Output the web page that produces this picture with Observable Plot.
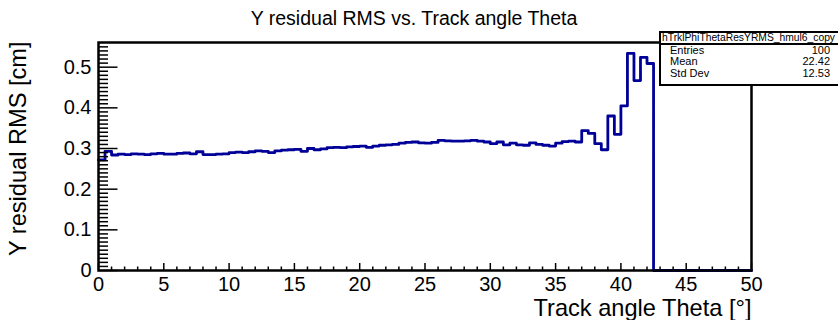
<!DOCTYPE html>
<html>
<head>
<meta charset="utf-8">
<script src="https://cdn.jsdelivr.net/npm/d3@7"></script>
<script src="https://cdn.jsdelivr.net/npm/@observablehq/plot@0.6"></script>
<style>
  html, body { margin: 0; padding: 0; background: #fff; overflow: hidden; }
  #wrap { position: relative; width: 838px; height: 320px; font-family: "Liberation Sans", Arial, sans-serif; }
  .stats { position: absolute; left: 659px; top: 31px; width: 200px; height: 51px;
           border: 2.5px solid #000; background: #fff; color: #000; font-size: 11px; }
  .stats .name { height: 9.5px; line-height: 9.5px; font-size: 10.3px; padding-left: 1px; border-bottom: 2px solid #000; white-space: nowrap; }
  .stats .row { position: relative; height: 11.8px; line-height: 11.8px; }
  .stats .row .k { position: absolute; left: 9px; }
  .stats .row .v { position: absolute; left: 119px; width: 50px; text-align: right; }
</style>
</head>
<body>
<div id="wrap"></div>
<script>
// Histogram: Y residual RMS per track-angle bin (100 bins over 0..50 degrees)
const title = "Y residual RMS vs. Track angle Theta";
const xTitle = "Track angle Theta [°]";
const yTitle = "Y residual RMS [cm]";
const xMin = 0, xMax = 50, nBins = 100;
const yMax = 0.5607;

const rmsValues = [
  0.272, 0.293, 0.284, 0.286, 0.285, 0.287, 0.286, 0.285, 0.287, 0.288,
  0.286, 0.286, 0.288, 0.289, 0.287, 0.292, 0.285, 0.285, 0.286, 0.287,
  0.290, 0.291, 0.290, 0.292, 0.294, 0.293, 0.290, 0.294, 0.296, 0.297,
  0.298, 0.293, 0.300, 0.297, 0.299, 0.302, 0.303, 0.302, 0.304, 0.305,
  0.306, 0.303, 0.306, 0.308, 0.309, 0.310, 0.313, 0.315, 0.316, 0.314,
  0.313, 0.315, 0.320, 0.319, 0.318, 0.318, 0.319, 0.320, 0.318, 0.316,
  0.312, 0.316, 0.309, 0.313, 0.309, 0.308, 0.314, 0.310, 0.308, 0.306,
  0.313, 0.317, 0.318, 0.316, 0.344, 0.337, 0.312, 0.297, 0.380, 0.335,
  0.405, 0.534, 0.467, 0.524, 0.509, 0, 0, 0, 0, 0,
  0, 0, 0, 0, 0, 0, 0, 0, 0, 0
];

const xTicks = [0, 5, 10, 15, 20, 25, 30, 35, 40, 45, 50];
const yTicks = [0, 0.1, 0.2, 0.3, 0.4, 0.5];

const statsName = "hTrklPhiThetaResYRMS_hmul6_copy";
const statsKeys = ["Entries", "Mean", "Std Dev"];
const statsVals = ["100", "22.42", "12.53"];

// step outline: each bin's low edge carries its content; close at the upper edge
const binWidth = (xMax - xMin) / nBins;
const steps = rmsValues.map((v, i) => ({x: xMin + i * binWidth, y: v}));
steps.push({x: xMax, y: rmsValues[nBins - 1]});

const xMinor = d3.range(xMin, xMax + 0.001, 1).filter(d => d % 5 !== 0);
const yMinor = d3.range(0, 0.5551, 0.01).filter(d => Math.abs(d * 10 - Math.round(d * 10)) > 1e-6);

const W = 838, H = 320, mL = 98, mR = 87, mT = 42, mB = 50;
const iw = W - mL - mR, ih = H - mT - mB;

const chart = Plot.plot({
  width: W, height: H,
  marginLeft: mL, marginRight: mR, marginTop: mT, marginBottom: mB,
  style: {fontFamily: "'Liberation Sans', Arial, sans-serif", color: "#000", background: "#fff"},
  x: {domain: [xMin, xMax]},
  y: {domain: [0, yMax]},
  marks: [
    Plot.line(steps, {x: "x", y: "y", curve: "step-after", stroke: "#000099", strokeWidth: 2.8}),
    Plot.tickX(xTicks, {x: d => d, stroke: "#000", strokeWidth: 1.5, insetTop: ih - 7}),
    Plot.tickX(xMinor, {x: d => d, stroke: "#000", strokeWidth: 1.5, insetTop: ih - 3.5}),
    Plot.tickY(yTicks, {y: d => d, stroke: "#000", strokeWidth: 1.5, insetRight: iw - 19.5}),
    Plot.tickY(yMinor, {y: d => d, stroke: "#000", strokeWidth: 1.5, insetRight: iw - 10}),
    Plot.frame({stroke: "#000", strokeWidth: 2.5}),
    Plot.axisX(xTicks, {tickSize: 0, tickPadding: 6, fontSize: 20, label: null, tickFormat: d => String(d)}),
    Plot.axisY(yTicks, {tickSize: 0, tickPadding: 7, fontSize: 20, label: null,
      tickFormat: d => d === 0 ? "0" : d.toFixed(1)}),
    Plot.text([title], {text: d => d, frameAnchor: "top", dx: -11, dy: -24, fontSize: 19.5, lineAnchor: "middle"}),
    Plot.text([xTitle], {text: d => d, frameAnchor: "bottom-right", textAnchor: "end", lineAnchor: "bottom", dy: 45, fontSize: 23.6}),
    Plot.text([yTitle], {text: d => d, frameAnchor: "top-left", textAnchor: "end", lineAnchor: "middle", rotate: -90, dx: -80, dy: -1, fontSize: 23.6})
  ]
});

const wrap = document.getElementById("wrap");
wrap.appendChild(chart);

// statistics box
const box = document.createElement("div");
box.className = "stats";
const nm = document.createElement("div");
nm.className = "name";
nm.textContent = statsName;
box.appendChild(nm);
statsKeys.forEach((k, i) => {
  const r = document.createElement("div");
  r.className = "row";
  r.innerHTML = `<span class="k"></span><span class="v"></span>`;
  r.querySelector(".k").textContent = k;
  r.querySelector(".v").textContent = statsVals[i];
  box.appendChild(r);
});
wrap.appendChild(box);
</script>
</body>
</html>
